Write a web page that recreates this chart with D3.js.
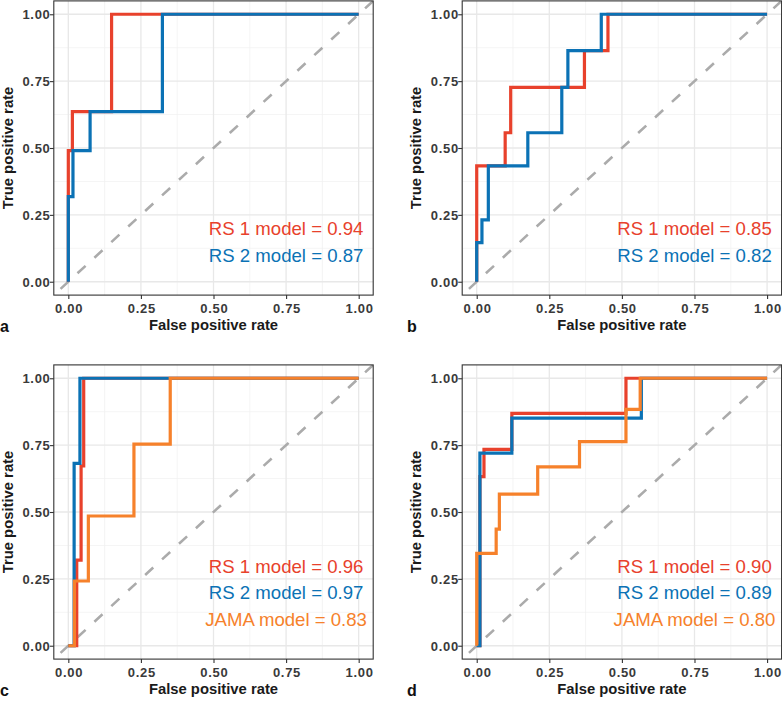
<!DOCTYPE html>
<html><head><meta charset="utf-8">
<script src="https://cdn.jsdelivr.net/npm/d3@7"></script>
<style>body{margin:0;background:#fff} svg{display:block}</style>
</head><body><svg id="chart" width="782" height="703"></svg>
<script>
// ---- data ----
const majorTicks = [0, 0.25, 0.5, 0.75, 1];
const tickLabels = ["0.00", "0.25", "0.50", "0.75", "1.00"];
const minorTicks = [0.125, 0.375, 0.625, 0.875];
const panelLabels = ["a", "b", "c", "d"];
const seriesNames = ["RS 1 model", "RS 2 model", "JAMA model"];
const xTitle = "False positive rate";
const yTitle = "True positive rate";

const aucA = [0.94, 0.87];
const aucB = [0.85, 0.82];
const aucC = [0.96, 0.97, 0.83];
const aucD = [0.90, 0.89, 0.80];

// ROC curves: [false positive rate, true positive rate]
const rocA_RS1 = [[0,0],[0,0.49],[0.014,0.49],[0.014,0.636],[0.149,0.636],[0.149,1],[1,1]];
const rocA_RS2 = [[0,0],[0,0.318],[0.016,0.318],[0.016,0.49],[0.075,0.49],[0.075,0.636],[0.324,0.636],[0.324,1],[1,1]];

const rocB_RS1 = [[0,0],[0,0.433],[0.098,0.433],[0.098,0.557],[0.117,0.557],[0.117,0.727],[0.371,0.727],[0.371,0.864],[0.452,0.864],[0.452,1],[1,1]];
const rocB_RS2 = [[0,0],[0,0.146],[0.018,0.146],[0.018,0.231],[0.04,0.231],[0.04,0.433],[0.176,0.433],[0.176,0.557],[0.293,0.557],[0.293,0.727],[0.314,0.727],[0.314,0.864],[0.429,0.864],[0.429,1],[1,1]];

const rocC_RS1 = [[0,0],[0.029,0],[0.029,0.32],[0.044,0.32],[0.044,0.672],[0.053,0.672],[0.053,1],[1,1]];
const rocC_RS2 = [[0,0],[0.02,0],[0.02,0.682],[0.04,0.682],[0.04,1],[1,1]];
const rocC_JAMA = [[0,0],[0.021,0],[0.021,0.242],[0.069,0.242],[0.069,0.485],[0.226,0.485],[0.226,0.754],[0.351,0.754],[0.351,1],[1,1]];

const rocD_RS1 = [[0,0],[0.011,0],[0.011,0.632],[0.025,0.632],[0.025,0.734],[0.121,0.734],[0.121,0.869],[0.514,0.869],[0.514,1],[1,1]];
const rocD_RS2 = [[0,0],[0.011,0],[0.011,0.72],[0.121,0.72],[0.121,0.851],[0.567,0.851],[0.567,1],[1,1]];
const rocD_JAMA = [[0,0],[0,0.345],[0.067,0.345],[0.067,0.436],[0.078,0.436],[0.078,0.567],[0.21,0.567],[0.21,0.669],[0.354,0.669],[0.354,0.763],[0.514,0.763],[0.514,0.884],[0.563,0.884],[0.563,1],[1,1]];

// ---- styles / layout ----
const seriesColors = ["#E8412C", "#0B72B5", "#F6812B"];
const panelW = 319.4, panelH = 294.2;
const layout = [
  {x: 53.8, y: 0.9}, {x: 462.2, y: 0.9},
  {x: 53.8, y: 364.9}, {x: 462.2, y: 364.9}
];
const panels = [
  {curves: [rocA_RS1, rocA_RS2], auc: aucA},
  {curves: [rocB_RS1, rocB_RS2], auc: aucB},
  {curves: [rocC_RS1, rocC_RS2, rocC_JAMA], auc: aucC},
  {curves: [rocD_RS1, rocD_RS2, rocD_JAMA], auc: aucD}
];

const svg = d3.select("#chart");
svg.append("rect").attr("width", 782).attr("height", 703).attr("fill", "#fff");

const FONT = "'Liberation Sans', Arial, Helvetica, sans-serif";

panels.forEach((p, i) => {
  const L = layout[i];
  const g = svg.append("g").attr("transform", `translate(${L.x},${L.y})`);
  const x = d3.scaleLinear().domain([-0.05, 1.05]).range([0, panelW]);
  const y = d3.scaleLinear().domain([-0.05, 1.05]).range([panelH, 0]);

  const clipId = "clip" + i;
  g.append("clipPath").attr("id", clipId)
    .append("rect").attr("width", panelW).attr("height", panelH);

  // grid
  const grid = g.append("g");
  grid.selectAll(".vmin").data(minorTicks).enter().append("line")
    .attr("x1", d => x(d)).attr("x2", d => x(d)).attr("y1", 0).attr("y2", panelH)
    .attr("stroke", "#EFEFEF").attr("stroke-width", 0.7);
  grid.selectAll(".hmin").data(minorTicks).enter().append("line")
    .attr("y1", d => y(d)).attr("y2", d => y(d)).attr("x1", 0).attr("x2", panelW)
    .attr("stroke", "#EFEFEF").attr("stroke-width", 0.7);
  grid.selectAll(".vmaj").data(majorTicks).enter().append("line")
    .attr("x1", d => x(d)).attr("x2", d => x(d)).attr("y1", 0).attr("y2", panelH)
    .attr("stroke", "#E8E8E8").attr("stroke-width", 1.3);
  grid.selectAll(".hmaj").data(majorTicks).enter().append("line")
    .attr("y1", d => y(d)).attr("y2", d => y(d)).attr("x1", 0).attr("x2", panelW)
    .attr("stroke", "#E8E8E8").attr("stroke-width", 1.3);

  // diagonal reference line
  g.append("line").attr("clip-path", `url(#${clipId})`)
    .attr("x1", x(-0.05)).attr("y1", y(-0.05)).attr("x2", x(1.05)).attr("y2", y(1.05))
    .attr("stroke", "#ABABAB").attr("stroke-width", 2.6)
    .attr("stroke-dasharray", "11,12").attr("stroke-dashoffset", 13.8);

  // curves
  const line = d3.line().x(d => x(d[0])).y(d => y(d[1]));
  p.curves.forEach((c, k) => {
    g.append("path").datum(c).attr("d", line)
      .attr("fill", "none").attr("stroke", seriesColors[k])
      .attr("stroke-width", 3.2).attr("stroke-linejoin", "miter");
  });

  // AUC labels
  const n = p.auc.length;
  p.auc.forEach((a, k) => {
    g.append("text").attr("x", x(0.75)).attr("y", y(0.073 + 0.1 * (n - 1 - k)))
      .attr("text-anchor", "middle").attr("fill", seriesColors[k])
      .attr("font-family", FONT).attr("font-size", 18.6)
      .text(`${seriesNames[k]} = ${a.toFixed(2)}`);
  });

  // border
  g.append("rect").attr("width", panelW).attr("height", panelH)
    .attr("fill", "none").attr("stroke", "#333").attr("stroke-width", 1.1);

  // axes
  const xAxis = d3.axisBottom(x).tickValues(majorTicks).tickSize(4).tickPadding(3)
    .tickFormat((d, j) => tickLabels[j]);
  const yAxis = d3.axisLeft(y).tickValues(majorTicks).tickSize(4).tickPadding(3)
    .tickFormat((d, j) => tickLabels[j]);
  const gx = g.append("g").attr("transform", `translate(0,${panelH})`).call(xAxis);
  const gy = g.append("g").call(yAxis);
  [gx, gy].forEach(ax => {
    ax.select(".domain").remove();
    ax.selectAll(".tick line").attr("stroke", "#333").attr("stroke-width", 1.1);
    ax.selectAll(".tick text").attr("fill", "#3a3a3a")
      .attr("font-family", FONT).attr("font-weight", "bold")
      .attr("font-size", 13).attr("letter-spacing", "0.7px");
  });
  gx.selectAll(".tick text").attr("dy", null).attr("y", 17.6).attr("dx", 0.35);
  gy.selectAll(".tick text").attr("x", -3.3).attr("dy", "0.36em");

  // axis titles
  g.append("text").attr("x", panelW / 2).attr("y", panelH + 35.4)
    .attr("text-anchor", "middle").attr("font-family", FONT)
    .attr("font-weight", "bold").attr("font-size", 14.8).attr("fill", "#1a1a1a")
    .text(xTitle);
  g.append("text").attr("transform", `translate(${-41},${panelH / 2}) rotate(-90)`)
    .attr("text-anchor", "middle").attr("font-family", FONT)
    .attr("font-weight", "bold").attr("font-size", 14.8).attr("fill", "#1a1a1a")
    .text(yTitle);

  // panel letter
  g.append("text").attr("x", -L.x + (i % 2 ? 407 - 408.4 + 408.4 : 0) - (i % 2 ? 0 : 0))
    .attr("y", panelH + 36.6)
    .attr("font-family", FONT).attr("font-weight", "bold")
    .attr("font-size", 16).attr("fill", "#111")
    .text(panelLabels[i]);
});
</script></body></html>
